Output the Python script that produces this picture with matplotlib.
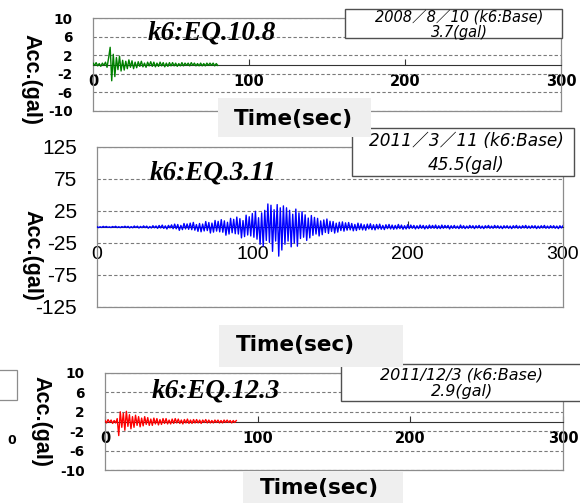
import numpy as np
import matplotlib
matplotlib.use("Agg")
import matplotlib.pyplot as plt
from matplotlib.patches import Rectangle

plt.rcParams["axes.unicode_minus"] = False

# --- acceleration records (gal), k6 base station, sampled every 1 s ---
# 2008/8/10
t_108 = np.arange(0, 81, 1.0)
acc_108 = [0.3, -0.2, 0.4, -0.3, 0.2, -0.4, 0.3, -0.2, 0.5, -0.6,
           1.4, 3.7, -3.5, 2.2, -2.6, 1.5, -1.1, 1.8, -1.4, 0.9,
           -1.2, 0.7, -0.9, 1.0, -0.6, 0.8, -0.9, 0.5, -0.7, 0.6,
           -0.4, 0.7, -0.5, 0.3, -0.6, 0.5, -0.3, 0.6, -0.4, 0.5,
           -0.5, 0.3, -0.4, 0.5, -0.3, 0.4, -0.5, 0.3, -0.4, 0.4,
           -0.3, 0.4, -0.3, 0.3, -0.4, 0.2, -0.3, 0.4, -0.3, 0.3,
           -0.2, 0.3, -0.3, 0.4, -0.2, 0.3, -0.3, 0.2, -0.3, 0.3,
           -0.3, 0.2, -0.3, 0.3, -0.2, 0.3, -0.2, 0.3, -0.3, 0.2, -0.2]

# 2011/3/11
t_311 = np.arange(0, 301, 1.0)
acc_311 = [0.6, -1.0, 0.4, -0.8, 1.0, -0.5, 0.9, -0.7, 0.3, -0.9,
           0.8, -0.4, 1.1, -0.9, 0.5, -1.0, 0.7, -0.6, 1.2, -0.8,
           1.0, -1.4, 0.6, -1.2, 1.5, -0.8, 1.3, -1.6, 0.9, -1.1,
           1.7, -1.0, 1.4, -1.9, 0.8, -1.5, 2.0, -1.2, 1.6, -2.1,
           2.4, -1.5, 3.0, -2.2, 1.8, -3.1, 2.6, -1.4, 3.3, -2.7,
           4.5, -2.8, 3.9, -5.2, 2.5, -4.1, 5.5, -3.0, 4.8, -3.6,
           6.0, -4.2, 7.2, -5.0, 3.8, -6.8, 5.5, -7.5, 4.6, -6.2,
           8.5, -5.6, 7.0, -9.4, 6.1, -8.0, 10.2, -6.4, 8.8, -7.6,
           11.5, -8.2, 9.6, -12.8, 7.4, -11.0, 13.5, -9.0, 12.0, -10.5,
           15.5, -11.0, 13.0, -17.0, 10.0, -15.0, 18.5, -12.5, 16.0, -14.0,
           21.0, -16.0, 24.5, -19.0, 14.5, -27.0, 22.0, -30.0, 26.0, -21.0,
           36.0, -24.0, 34.0, -38.0, 27.0, -22.0, 35.0, -45.5, 30.0, -36.0,
           33.0, -27.0, 30.0, -22.0, 26.0, -31.0, 20.0, -25.0, 28.0, -30.0,
           22.0, -18.0, 24.0, -16.0, 19.0, -21.0, 14.0, -17.0, 18.0, -13.0,
           15.0, -11.0, 13.5, -14.0, 9.5, -12.0, 11.0, -8.5, 12.5, -10.0,
           9.0, -7.0, 8.5, -9.5, 6.0, -8.0, 7.5, -5.5, 8.0, -6.5,
           6.5, -5.0, 7.0, -4.5, 5.5, -6.0, 4.0, -5.5, 6.0, -4.0,
           5.0, -4.5, 3.5, -5.0, 4.5, -3.0, 5.0, -4.0, 3.5, -4.5,
           4.0, -3.0, 4.5, -3.5, 2.5, -4.0, 3.5, -2.5, 4.0, -3.0,
           3.0, -3.5, 2.5, -3.0, 4.0, -2.5, 3.0, -3.5, 2.0, -3.0,
           3.5, -2.5, 3.0, -2.0, 2.5, -3.0, 2.0, -2.5, 3.0, -2.0,
           2.5, -3.0, 2.0, -2.5, 3.0, -2.0, 2.5, -2.0, 3.0, -2.5,
           2.0, -2.5, 3.0, -2.0, 2.5, -1.5, 2.5, -3.0, 2.0, -2.0,
           2.5, -2.0, 1.5, -2.5, 3.0, -2.0, 2.0, -2.5, 1.5, -2.0,
           2.5, -1.5, 2.0, -2.5, 2.0, -1.5, 2.5, -2.0, 1.5, -2.5,
           2.0, -1.5, 2.5, -2.0, 1.5, -2.0, 2.5, -1.5, 2.0, -2.0,
           1.5, -2.5, 2.0, -1.5, 2.0, -2.0, 1.5, -2.5, 2.0, -1.5,
           2.5, -2.0, 1.5, -2.0, 2.0, -1.5, 2.5, -2.0, 1.5, -2.0,
           2.0, -1.5, 2.0, -2.5, 1.5, -2.0, 2.0, -1.5, 2.5, -2.0,
           1.5, -2.0, 2.0, -1.5, 2.0, -2.0, 1.5, -2.5, 2.0, -1.5,
           2.0]

# 2011/12/3
t_123 = np.arange(0, 87, 1.0)
acc_123 = [0.2, -0.3, 0.4, -0.2, 0.3, -0.4, 0.2, -0.3, 0.6, -2.9,
           2.0, -1.2, 1.7, -1.8, 2.1, -1.0, 1.4, -1.5, 1.0, -1.2,
           1.3, -0.8, 1.0, -1.1, 0.7, -0.9, 1.0, -0.6, 0.8, -0.8,
           0.5, -0.8, 0.7, -0.5, 0.6, -0.7, 0.4, -0.6, 0.6, -0.4,
           0.6, -0.5, 0.3, -0.5, 0.5, -0.4, 0.6, -0.3, 0.5, -0.4,
           0.3, -0.5, 0.4, -0.3, 0.5, -0.4, 0.3, -0.4, 0.4, -0.3,
           0.4, -0.3, 0.3, -0.4, 0.3, -0.2, 0.4, -0.3, 0.3, -0.3,
           0.2, -0.3, 0.3, -0.2, 0.3, -0.3, 0.2, -0.3, 0.3, -0.2,
           0.3, -0.2, 0.2, -0.3, 0.2, -0.2, 0.2]

x_ticks = [0, 100, 200, 300]
yticks_small = [-10, -6, -2, 2, 6, 10]
yticks_311 = [-125, -75, -25, 25, 75, 125]

W, H = 580, 503
FRAME = "#8c8c8c"
GRID = "#7a7a7a"
JP = ["DejaVu Sans", "Noto Sans CJK JP"]

fig = plt.figure(figsize=(W / 100, H / 100), dpi=100)


def px_rect(l, t, r, b):
    return [l / W, 1 - b / H, (r - l) / W, (b - t) / H]


def fx(x):
    return x / W


def fy(y):
    return 1 - y / H


def panel(rect, t, acc, color, lim, yticks, xpad, tick_font, xsize, ysize, weight):
    ax = fig.add_axes(px_rect(*rect))
    ax.plot(t, acc, color=color, lw=1.0, zorder=3)
    ax.set_xlim(0, 300)
    ax.set_ylim(-lim, lim)
    ax.set_xticks(x_ticks)
    ax.set_yticks(yticks)
    for s in ("left", "right", "top"):
        ax.spines[s].set_color(FRAME)
        ax.spines[s].set_linewidth(0.9)
    # zero line carries the time axis
    ax.spines["bottom"].set_position(("data", 0))
    ax.spines["bottom"].set_color("#333333")
    ax.spines["bottom"].set_linewidth(0.8)
    ax.plot([0, 1], [0, 0], transform=ax.transAxes, color=FRAME, lw=0.9, clip_on=False)
    ax.yaxis.grid(True, linestyle=(0, (3, 2)), color=GRID, lw=0.8)
    ax.tick_params(axis="x", direction="in", length=4, width=0.8, color="#333333",
                   pad=xpad, labelsize=xsize)
    ax.tick_params(axis="y", length=0, pad=14.5, labelsize=ysize)
    for lab in ax.get_xticklabels() + ax.get_yticklabels():
        lab.set_fontfamily(tick_font)
        lab.set_fontweight(weight)
    return ax


ax1 = panel((93, 18, 561, 111), t_108, acc_108, "#008000", 10, yticks_small,
            6.5, "DejaVu Sans", 10.5, 9.8, "bold")
ax2 = panel((97, 147, 563, 307), t_311, acc_311, "#0000ff", 125, yticks_311,
            13.5, "Liberation Sans", 14, 15, "normal")
ax3 = panel((105, 373, 563, 470), t_123, acc_123, "#ff0000", 10, yticks_small,
            7.0, "DejaVu Sans", 10.5, 9.8, "bold")

# event titles
title_kw = dict(fontfamily="Liberation Serif", fontweight="bold", fontstyle="italic",
                fontsize=19.5, ha="left", va="baseline", zorder=6)
fig.text(fx(148), fy(39), "k6:EQ.10.8", **title_kw)
fig.text(fx(150), fy(180), "k6:EQ.3.11", **title_kw)
fig.text(fx(152), fy(398), "k6:EQ.12.3", **title_kw)


def note_box(l, t, r, b, cx, cy, text, size, spacing):
    fig.add_artist(Rectangle((fx(l), fy(b)), (r - l) / W, (b - t) / H,
                             transform=fig.transFigure, facecolor="white",
                             edgecolor="#505050", lw=1.0, zorder=5))
    fig.text(fx(cx), fy(cy), text, fontfamily=JP, fontstyle="italic", fontsize=size,
             ha="center", va="center", multialignment="center",
             linespacing=spacing, zorder=6)


note_box(345, 9, 562, 38, 459, 24.5, "2008／8／10 (k6:Base)\n3.7(gal)", 10.5, 1.0)
note_box(352, 128, 574, 176, 466, 153, "2011／3／11 (k6:Base)\n45.5(gal)", 12.2, 1.4)
note_box(341, 364, 590, 401, 462, 383, "2011/12/3 (k6:Base)\n2.9(gal)", 11.5, 1.1)


def time_label(l, t, r, b, cx, cy):
    fig.add_artist(Rectangle((fx(l), fy(b)), (r - l) / W, (b - t) / H,
                             transform=fig.transFigure, facecolor="#efefef",
                             edgecolor="none", zorder=5))
    fig.text(fx(cx), fy(cy), "Time(sec)", fontfamily="DejaVu Sans", fontweight="bold",
             fontsize=15.5, ha="center", va="center", zorder=6)


time_label(218, 98, 371, 137, 293, 119)
time_label(219, 325, 403, 367, 295, 345)
time_label(243, 472, 403, 503, 319, 488)

# vertical axis titles
acc_kw = dict(fontfamily="Liberation Sans", fontweight="bold", fontsize=15.5,
              rotation=-90, ha="center", va="center", zorder=4)
fig.text(fx(31), fy(79), "Acc.(gal)", **acc_kw)
fig.text(fx(32), fy(255), "Acc.(gal)", **acc_kw)
fig.text(fx(41), fy(422), "Acc.(gal)", **acc_kw)

# leftover edge of the neighbouring sheet
fig.add_artist(Rectangle((fx(-5), fy(400)), 22 / W, 30 / H, transform=fig.transFigure,
                         facecolor="none", edgecolor=FRAME, lw=0.9, zorder=5))
fig.text(fx(12), fy(440), "0", fontfamily="DejaVu Sans", fontweight="bold",
         fontsize=9, ha="center", va="center")

fig.savefig("out.png", dpi=100)
